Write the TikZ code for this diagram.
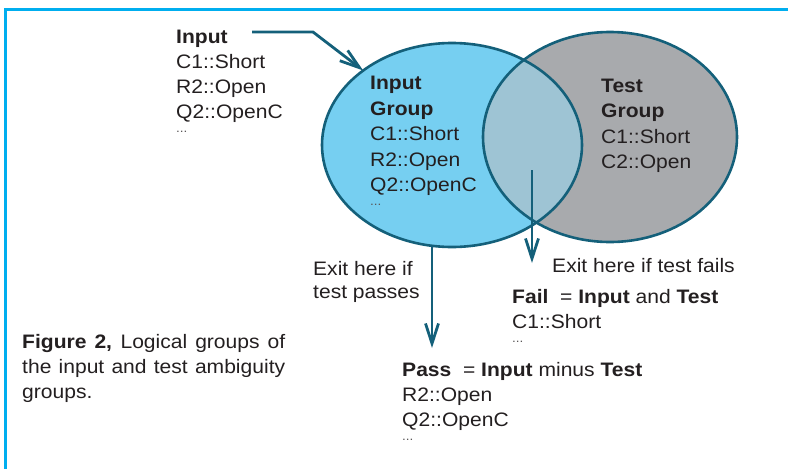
\documentclass[tikz,border=0pt]{standalone}
\usepackage{fontspec}
\setmainfont{Liberation Sans}[FakeStretch=1.08]
\usetikzlibrary{arrows.meta,shapes.geometric}

\definecolor{framecyan}{HTML}{00AEEF}
\definecolor{inkteal}{HTML}{14607A}
\definecolor{inputfill}{HTML}{76CFF1}
\definecolor{testfill}{HTML}{A8AAAD}
\definecolor{lensfill}{HTML}{9EC4D4}
\definecolor{txt}{HTML}{231F20}

\begin{document}
\begin{tikzpicture}[x=1pt,y=-1pt,
  txtline/.style={anchor=base west, inner sep=0pt, text=txt,
    font=\fontsize{19.5}{25}\selectfont},
  dots/.style={anchor=base west, inner sep=0pt, text=txt!75,
    font=\fontsize{12.5}{14}\selectfont},
  grp/.style={ellipse, inner sep=0pt, outer sep=0pt},
  outline/.style={draw=inkteal, line width=2.6pt},
  link/.style={draw=inkteal, line width=2.8pt,
    -{Straight Barb[length=20pt,width=13pt]}}]

\useasboundingbox (0,0) rectangle (788,469);

% page frame
\draw[framecyan, line width=2.5pt] (5.3,469) -- (5.3,9.5) -- (788,9.5);

% the two groups and their overlap
\node[grp, fill=inputfill, minimum width=260pt, minimum height=204pt] (ingrp) at (452,145) {};
\node[grp, fill=testfill, minimum width=254pt, minimum height=210pt] (testgrp) at (610,137) {};
\begin{scope}
  \clip (ingrp.center) ellipse [x radius=130pt, y radius=102pt];
  \fill[lensfill] (testgrp.center) ellipse [x radius=127pt, y radius=105pt];
\end{scope}
\draw[outline] (ingrp.center) ellipse [x radius=130pt, y radius=102pt];
\draw[outline] (testgrp.center) ellipse [x radius=127pt, y radius=105pt];

% input list
\node[txtline] (inhead) at (176,43) {\textbf{Input}};
\node[txtline] (in1) at (176,68) {C1::Short};
\node[txtline] (in2) at (176,93) {R2::Open};
\node[txtline] (in3) at (176,118) {Q2::OpenC};
\node[dots] (in4) at (176,132) {...};

% input group
\node[txtline] (ighead) at (370,89) {\textbf{Input}};
\node[txtline] (ighead2) at (370,115) {\textbf{Group}};
\node[txtline] (ig1) at (370,140) {C1::Short};
\node[txtline] (ig2) at (370,166) {R2::Open};
\node[txtline] (ig3) at (370,191) {Q2::OpenC};
\node[dots] (ig4) at (370,205) {...};

% test group
\node[txtline] (tghead) at (601,92) {\textbf{Test}};
\node[txtline] (tghead2) at (601,117) {\textbf{Group}};
\node[txtline] (tg1) at (601,143) {C1::Short};
\node[txtline] (tg2) at (601,168) {C2::Open};

% exit labels
\node[txtline] (passlbl1) at (313,275) {Exit here if};
\node[txtline] (passlbl2) at (313,298) {test passes};
\node[txtline] (faillbl) at (552,272) {Exit here if test fails};

% fail result
\node[txtline] (failhead) at (512,303) {\textbf{Fail}\ \ = \textbf{Input} and \textbf{Test}};
\node[txtline] (fail1) at (512,328) {C1::Short};
\node[dots] (fail2) at (512,342) {...};

% pass result
\node[txtline] (passhead) at (402,376) {\textbf{Pass}\ \ = \textbf{Input} minus \textbf{Test}};
\node[txtline] (pass1) at (402,401) {R2::Open};
\node[txtline] (pass2) at (402,426) {Q2::OpenC};
\node[dots] (pass3) at (402,440) {...};

% caption
\node[txtline] (cap1) at (22,348) {\makebox[263pt][s]{\textbf{Figure 2,} Logical groups of}};
\node[txtline] (cap2) at (22,373) {\makebox[263pt][s]{the input and test ambiguity}};
\node[txtline] (cap3) at (22,398) {groups.};

% connectors
\coordinate (instart) at (252,32);
\coordinate (inbend) at (313,32);
\draw[link] (instart) -- (inbend) -- (ingrp.140);

\coordinate (passtip) at (432,348);
\draw[link] (ingrp.south -| passtip) -- (passtip);

\coordinate (failtop) at (532,170);
\coordinate (failtip) at (532,263);
\draw[link] (failtop) -- (failtip);
\end{tikzpicture}
\end{document}
